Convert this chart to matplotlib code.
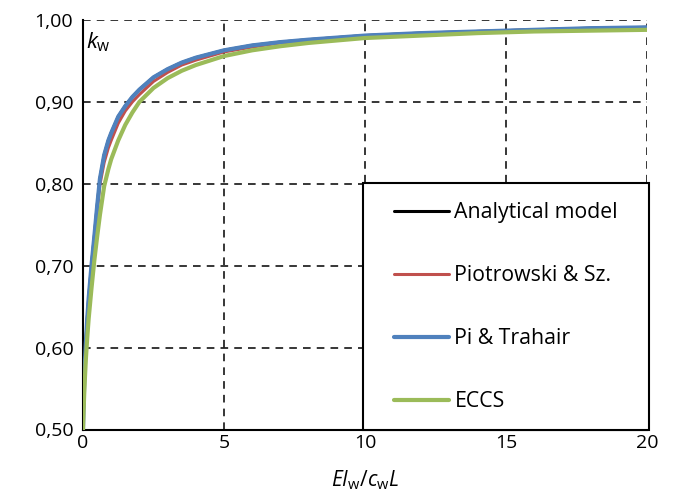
import matplotlib
matplotlib.use("Agg")
import matplotlib.pyplot as plt
from matplotlib.ticker import FuncFormatter
from matplotlib.patches import Rectangle

plt.rcParams['font.family'] = ['Open Sans', 'DejaVu Sans']
plt.rcParams['mathtext.fontset'] = 'custom'
plt.rcParams['mathtext.rm'] = 'Open Sans'
plt.rcParams['mathtext.it'] = 'Open Sans:italic'

x = [0, 0.02, 0.05, 0.1, 0.15, 0.2, 0.3, 0.4, 0.5, 0.6, 0.75, 0.9, 1.0, 1.25, 1.5, 1.75,
     2, 2.5, 3, 3.5, 4, 5, 6, 7, 8, 10, 12, 14, 16, 18, 20]
analytical = [0.500, 0.530, 0.565, 0.605, 0.635, 0.660, 0.700, 0.735, 0.772, 0.806, 0.835, 0.853,
              0.862, 0.882, 0.895, 0.906, 0.915, 0.930, 0.940, 0.948, 0.954, 0.963, 0.969,
              0.973, 0.976, 0.981, 0.984, 0.986, 0.988, 0.990, 0.991]
piotrowski = [0.500, 0.528, 0.560, 0.598, 0.627, 0.652, 0.693, 0.728, 0.765, 0.799, 0.826, 0.844,
              0.853, 0.874, 0.889, 0.900, 0.909, 0.925, 0.936, 0.945, 0.951, 0.961, 0.967,
              0.972, 0.975, 0.980, 0.983, 0.986, 0.988, 0.989, 0.991]
pi_trahair = [0.500, 0.530, 0.565, 0.605, 0.635, 0.660, 0.700, 0.735, 0.772, 0.806, 0.835, 0.853,
              0.862, 0.882, 0.895, 0.906, 0.915, 0.930, 0.940, 0.948, 0.954, 0.963, 0.969,
              0.973, 0.976, 0.981, 0.984, 0.986, 0.988, 0.990, 0.991]
eccs = [0.500, 0.522, 0.550, 0.585, 0.612, 0.635, 0.672, 0.706, 0.735, 0.762, 0.797, 0.818,
        0.830, 0.853, 0.872, 0.887, 0.900, 0.917, 0.929, 0.938, 0.945, 0.956, 0.963,
        0.968, 0.972, 0.978, 0.981, 0.984, 0.986, 0.987, 0.988]

series = [
    ("Analytical model", analytical, "#000000", 2.2),
    ("Piotrowski & Sz.", piotrowski, "#C0504D", 2.2),
    ("Pi & Trahair", pi_trahair, "#4F81BD", 3.0),
    ("ECCS", eccs, "#9BBB59", 3.0),
]

xticks = [0, 5, 10, 15, 20]
yticks = [0.5, 0.6, 0.7, 0.8, 0.9, 1.0]

fig = plt.figure(figsize=(6.76, 5.0), dpi=100)
ax = fig.add_axes([83/676, 1-429.5/500, (647-83)/676, (429.5-20)/500])

for name, vals, col, lw in series:
    ax.plot(x, vals, color=col, lw=lw, label=name, solid_capstyle='round',
            solid_joinstyle='round', zorder=3)

ax.set_xlim(0, 20)
ax.set_ylim(0.5, 1.0)
ax.set_xticks(xticks)
ax.set_yticks(yticks)
ax.yaxis.set_major_formatter(FuncFormatter(lambda v, p: f"{v:.2f}".replace('.', ',')))
ax.tick_params(length=0, labelsize=14)
ax.tick_params(axis='y', pad=7)
ax.tick_params(axis='x', pad=3)
ax.grid(True, color='black', linestyle=(0, (5, 4)), linewidth=1.1)
ax.set_axisbelow(True)
for s in ['top', 'right']:
    ax.spines[s].set_visible(False)
for s in ['left', 'bottom']:
    ax.spines[s].set_linewidth(1.5)
    ax.spines[s].set_zorder(2)

ax.text(0.005, 0.975, r'$\mathit{k}_\mathrm{w}$', transform=ax.transAxes, fontsize=16,
        va='top', ha='left')
ax.set_xlabel(r'$\mathit{EI}_\mathrm{w}/\mathit{c}_\mathrm{w}\mathit{L}$', fontsize=15, labelpad=12)

# legend frame
frame = Rectangle((0.4965, 0.0), 0.507, 0.602, transform=ax.transAxes, facecolor='white',
                  edgecolor='black', linewidth=1.5, zorder=4, clip_on=False)
ax.add_patch(frame)

leg = ax.legend(loc='center', bbox_to_anchor=(0.75, 0.299), borderaxespad=0,
                prop={'size': 15.3}, frameon=False,
                handlelength=2.6, handletextpad=0.25, labelspacing=1.98, borderpad=0)
leg.set_zorder(5)

fig.savefig("out.png", dpi=100)
